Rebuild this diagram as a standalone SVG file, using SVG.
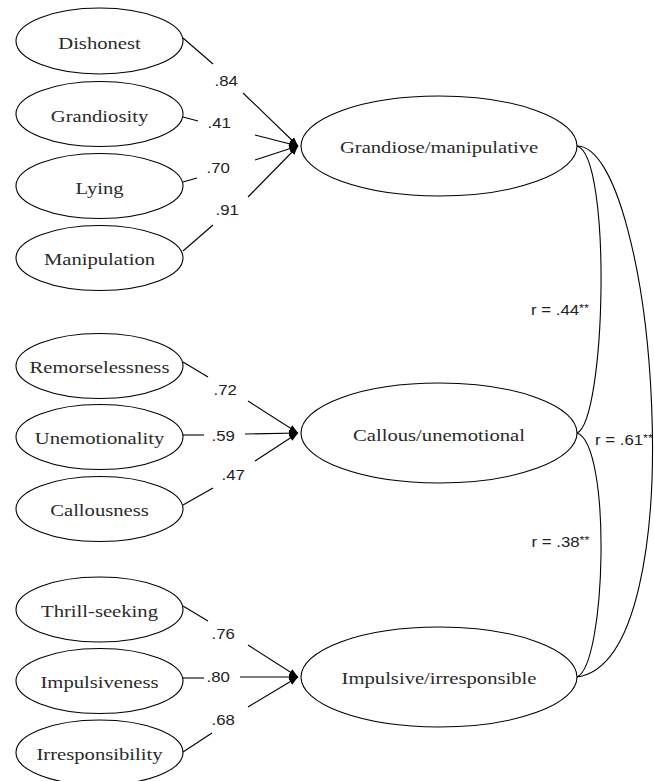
<svg xmlns="http://www.w3.org/2000/svg" width="654" height="781" viewBox="0 0 654 781">
<style>
.node ellipse{fill:#fff;stroke:#000;stroke-width:1.1}
.node text{font-family:"Liberation Serif","Times New Roman",serif;font-size:17.5px;font-weight:normal;fill:#2a2a2a;text-anchor:middle}
.conn line,.conn path{stroke:#000;stroke-width:1.1;fill:none}
.lbl{font-family:"Liberation Sans",Arial,sans-serif;font-size:14px;fill:#222}
.sup{font-size:10.5px}
</style>
<defs>
<marker id="ah" markerUnits="userSpaceOnUse" markerWidth="10" markerHeight="8" refX="9" refY="4" orient="auto">
<path d="M0,0.5 L9,4 L0,7.5 z" fill="#000"/>
</marker>
</defs>
<rect width="654" height="781" fill="#fff"/>
<g class="conn">
<line x1="183" y1="38" x2="213" y2="64"/>
<line x1="243" y1="93" x2="298" y2="146" marker-end="url(#ah)"/>
<line x1="183" y1="117" x2="198" y2="121"/>
<line x1="255" y1="135" x2="298" y2="146" marker-end="url(#ah)"/>
<line x1="183" y1="182" x2="197" y2="178"/>
<line x1="255" y1="160" x2="298" y2="146" marker-end="url(#ah)"/>
<line x1="183" y1="251" x2="213" y2="225"/>
<line x1="248" y1="197" x2="298" y2="146" marker-end="url(#ah)"/>
<line x1="183" y1="362" x2="208" y2="377"/>
<line x1="248" y1="401" x2="298" y2="433" marker-end="url(#ah)"/>
<line x1="183" y1="435" x2="204" y2="435"/>
<line x1="245" y1="434" x2="298" y2="433" marker-end="url(#ah)"/>
<line x1="183" y1="505" x2="213" y2="488"/>
<line x1="255" y1="461" x2="298" y2="433" marker-end="url(#ah)"/>
<line x1="183" y1="606" x2="208" y2="621"/>
<line x1="248" y1="645" x2="298" y2="677" marker-end="url(#ah)"/>
<line x1="183" y1="678" x2="204" y2="678"/>
<line x1="240" y1="677" x2="298" y2="677" marker-end="url(#ah)"/>
<line x1="183" y1="752" x2="212" y2="733"/>
<line x1="248" y1="707" x2="298" y2="677" marker-end="url(#ah)"/>
<path d="M577,146 C612,156 606,420 577,433"/>
<path d="M577,146 C655,146 698,660 577,677"/>
<path d="M577,433 C612,445 606,665 577,677"/>
</g>
<g class="lbls">
<text class="lbl" transform="translate(214.5,86) scale(1.2,1)">.84</text>
<text class="lbl" transform="translate(207.5,128) scale(1.2,1)">.41</text>
<text class="lbl" transform="translate(206.5,173) scale(1.2,1)">.70</text>
<text class="lbl" transform="translate(215.5,215) scale(1.2,1)">.91</text>
<text class="lbl" transform="translate(213.5,395) scale(1.2,1)">.72</text>
<text class="lbl" transform="translate(211.5,441) scale(1.2,1)">.59</text>
<text class="lbl" transform="translate(221.5,480) scale(1.2,1)">.47</text>
<text class="lbl" transform="translate(211.5,639) scale(1.2,1)">.76</text>
<text class="lbl" transform="translate(206.5,682) scale(1.2,1)">.80</text>
<text class="lbl" transform="translate(211.5,725) scale(1.2,1)">.68</text>
<text class="lbl" transform="translate(531,315) scale(1.2,1)">r = .44<tspan class="sup" dy="-3.5">**</tspan></text>
<text class="lbl" transform="translate(595,445) scale(1.2,1)">r = .61<tspan class="sup" dy="-3.5">**</tspan></text>
<text class="lbl" transform="translate(531.5,547) scale(1.2,1)">r = .38<tspan class="sup" dy="-3.5">**</tspan></text>
</g>
<g id="n-dishonest" class="node"><ellipse cx="99.5" cy="41" rx="83.5" ry="33"/><text transform="translate(99.5,49) scale(1.18,1)">Dishonest</text></g>
<g id="n-grandiosity" class="node"><ellipse cx="99.5" cy="114" rx="83.5" ry="32.5"/><text transform="translate(99.5,121.5) scale(1.18,1)">Grandiosity</text></g>
<g id="n-lying" class="node"><ellipse cx="99.5" cy="186" rx="83.5" ry="32.5"/><text transform="translate(99.5,193.5) scale(1.18,1)">Lying</text></g>
<g id="n-manipulation" class="node"><ellipse cx="99.5" cy="258" rx="83.5" ry="32.5"/><text transform="translate(99.5,265) scale(1.18,1)">Manipulation</text></g>
<g id="n-remorselessness" class="node"><ellipse cx="99.5" cy="366" rx="83.5" ry="32.5"/><text transform="translate(99.5,373) scale(1.18,1)">Remorselessness</text></g>
<g id="n-unemotionality" class="node"><ellipse cx="99.5" cy="437" rx="83.5" ry="32.5"/><text transform="translate(99.5,443.5) scale(1.18,1)">Unemotionality</text></g>
<g id="n-callousness" class="node"><ellipse cx="99.5" cy="509" rx="83.5" ry="32.5"/><text transform="translate(99.5,515.5) scale(1.18,1)">Callousness</text></g>
<g id="n-thrill" class="node"><ellipse cx="99.5" cy="609.5" rx="83.5" ry="32.5"/><text transform="translate(99.5,616.5) scale(1.18,1)">Thrill-seeking</text></g>
<g id="n-impulsiveness" class="node"><ellipse cx="99.5" cy="681" rx="83.5" ry="32.5"/><text transform="translate(99.5,688) scale(1.18,1)">Impulsiveness</text></g>
<g id="n-irresponsibility" class="node"><ellipse cx="99.5" cy="752.5" rx="83.5" ry="32.5"/><text transform="translate(99.5,760) scale(1.18,1)">Irresponsibility</text></g>
<g id="n-grandiose" class="node"><ellipse cx="439" cy="146" rx="138" ry="50"/><text transform="translate(439,153) scale(1.18,1)">Grandiose/manipulative</text></g>
<g id="n-callous" class="node"><ellipse cx="439" cy="433" rx="138" ry="50"/><text transform="translate(439,440.5) scale(1.18,1)">Callous/unemotional</text></g>
<g id="n-impulsive" class="node"><ellipse cx="439" cy="677" rx="138" ry="50"/><text transform="translate(439,684) scale(1.18,1)">Impulsive/irresponsible</text></g>
</svg>
